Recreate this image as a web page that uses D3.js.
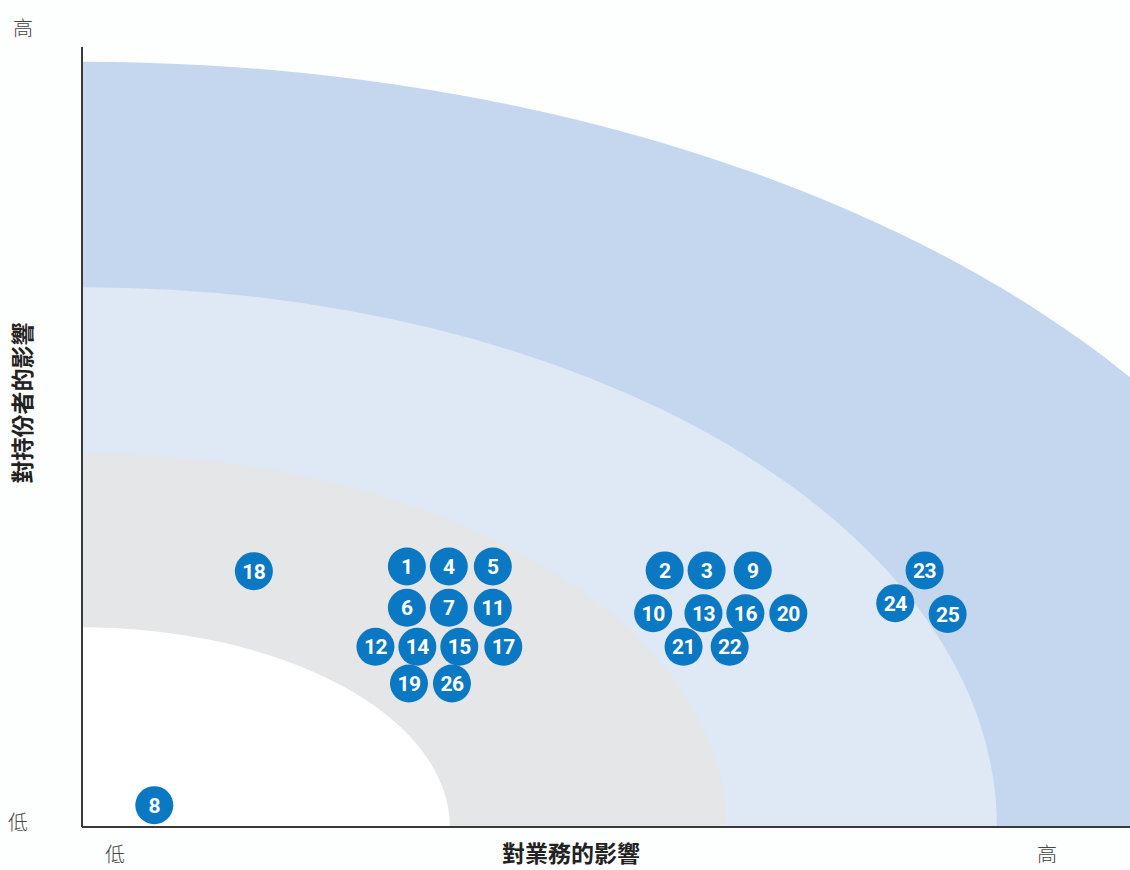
<!DOCTYPE html>
<html>
<head>
<meta charset="utf-8">
<script src="https://cdn.jsdelivr.net/npm/d3@7"></script>
<style>
  body { margin: 0; background: #fdfefe; }
  svg { display: block; }
</style>
</head>
<body>
<div id="chart"></div>
<script>
// 議題編號與位置 (對業務的影響 = x, 對持份者的影響 = y, 0-100)
const ids = [18, 1, 4, 5, 6, 7, 11, 12, 14, 15, 17, 19, 26,
             2, 3, 9, 10, 13, 16, 20, 21, 22, 23, 24, 25, 8];
const bizImpact = [16.4, 31.0, 35.0, 39.2, 31.0, 35.0, 39.2, 28.0, 32.0, 36.0, 40.2, 31.2, 35.3,
                   55.6, 59.6, 64.0, 54.5, 59.3, 63.3, 67.4, 57.4, 61.8, 80.4, 77.6, 82.6, 6.9];
const stakeImpact = [32.8, 33.4, 33.4, 33.4, 28.1, 28.1, 28.1, 23.1, 23.1, 23.1, 23.1, 18.4, 18.4,
                     32.9, 32.9, 32.9, 27.4, 27.4, 27.4, 27.4, 23.1, 23.1, 32.9, 28.7, 27.3, 2.8];

// 背景區域 (由外至內)
const bandRx = [123.6, 87.3, 61.5, 35.1];
const bandRy = [98.1, 69.2, 47.9, 25.6];
const bandColors = ["#c5d7ef", "#dfe8f5", "#e5e6e8", "#ffffff"];

const width = 1130, height = 870;
const svg = d3.select("#chart").append("svg")
    .attr("width", width)
    .attr("height", height);

const x = d3.scaleLinear().domain([0, 100]).range([82, 1130]);
const y = d3.scaleLinear().domain([0, 100]).range([827, 47]);

svg.append("clipPath").attr("id", "plot")
  .append("rect")
    .attr("x", x(0)).attr("y", 0)
    .attr("width", width - x(0)).attr("height", y(0));

svg.append("g").attr("clip-path", "url(#plot)")
  .selectAll("ellipse")
  .data(bandRx)
  .join("ellipse")
    .attr("cx", x(0))
    .attr("cy", y(0))
    .attr("rx", d => x(d) - x(0))
    .attr("ry", (d, i) => y(0) - y(bandRy[i]))
    .attr("fill", (d, i) => bandColors[i]);

// 座標軸
svg.append("line")
    .attr("x1", x(0)).attr("x2", x(0))
    .attr("y1", y(100)).attr("y2", y(0))
    .attr("stroke", "#3a3a3a").attr("stroke-width", 2);
svg.append("line")
    .attr("x1", x(0)).attr("x2", x(100))
    .attr("y1", y(0)).attr("y2", y(0))
    .attr("stroke", "#3a3a3a").attr("stroke-width", 2);

const points = ids.map((id, i) => ({ id, bx: bizImpact[i], sy: stakeImpact[i] }));

const g = svg.append("g").selectAll("g")
  .data(points)
  .join("g")
    .attr("transform", d => `translate(${x(d.bx)},${y(d.sy)})`);

g.append("circle")
    .attr("r", 19)
    .attr("fill", "#0a78c2");

g.append("text")
    .attr("text-anchor", "middle")
    .attr("dy", "0.36em")
    .attr("fill", "#fff")
    .attr("font-family", "Roboto, 'DejaVu Sans', sans-serif")
    .attr("font-weight", "bold")
    .attr("font-size", 21)
    .attr("letter-spacing", "-0.5px")
    .text(d => d.id);

// 文字標籤
const cjk = "'Noto Sans CJK TC', 'Noto Sans CJK SC', sans-serif";
const label = (tx, ty, txt, bold) => svg.append("text")
    .attr("x", tx).attr("y", ty)
    .attr("text-anchor", "middle")
    .attr("font-family", cjk)
    .attr("font-size", bold ? 23 : 20)
    .attr("font-weight", bold ? "bold" : 300)
    .attr("fill", bold ? "#222" : "#444")
    .text(txt);

label(23, 36, "高");
label(18, 830, "低");
label(115, 862, "低");
label(1047, 862, "高");
label(571, 862, "對業務的影響", true);

svg.append("text")
    .attr("transform", "translate(31,403) rotate(-90)")
    .attr("text-anchor", "middle")
    .attr("font-family", cjk)
    .attr("font-size", 23)
    .attr("font-weight", "bold")
    .attr("fill", "#222")
    .text("對持份者的影響");
</script>
</body>
</html>
